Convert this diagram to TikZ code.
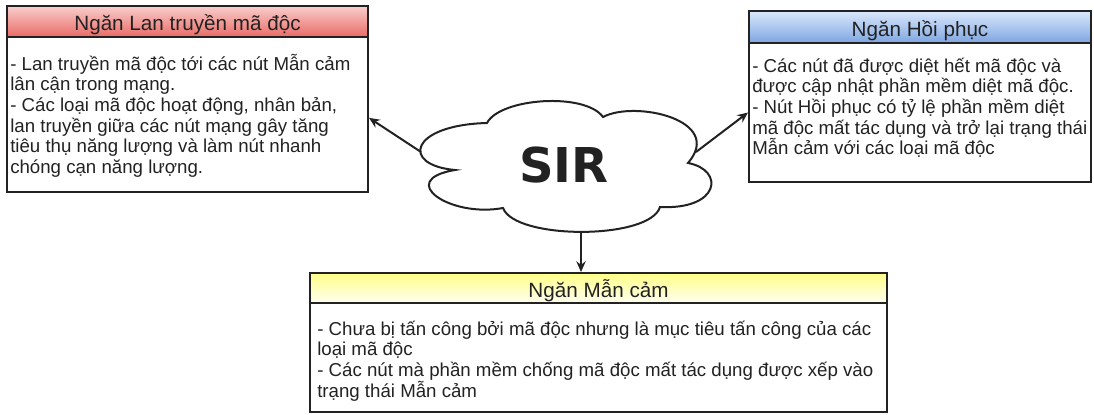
\documentclass[tikz,border=0pt]{standalone}
\usepackage{fontspec}
\setmainfont{Liberation Sans}
\newfontfamily\sirfont{DejaVu Sans}
\usetikzlibrary{arrows.meta,fit}
\definecolor{redtop}{HTML}{F8CECC}
\definecolor{redbot}{HTML}{EA6B66}
\definecolor{bluetop}{HTML}{DAE8FC}
\definecolor{bluebot}{HTML}{7EA6E0}
\definecolor{yeltop}{HTML}{FFFF88}
\definecolor{yelbot}{HTML}{FFFFF0}
\definecolor{ink}{HTML}{222222}
\begin{document}
\begin{tikzpicture}[x=0.75pt,y=-0.75pt,
  boxline/.style={draw=ink, line width=1.5pt},
  hdr/.style={boxline, inner sep=0pt},
  bodybox/.style={boxline, inner sep=0pt, fill=white},
  hdrtext/.style={anchor=base, inner sep=0pt, font=\fontsize{15.5}{18}\selectfont, text=ink},
  bodytext/.style={anchor=north west, inner sep=0pt, align=left, font=\fontsize{14}{15.5}\selectfont, text=ink},
  arr/.style={draw=ink, line width=1.5pt, -{Stealth[length=8pt,width=7pt]}},
  cloudline/.style={draw=ink, line width=1.5pt, fill=white}]
\useasboundingbox (0,0) rectangle (1094,414);

% ---- left box (Lan truyen)
\node[hdr, fit={(7,6) (368,37)}, top color=redtop, bottom color=redbot] (lh) {};
\node[bodybox, fit={(7,37) (368,192)}] (lb) {};
\node[hdrtext] (lht) at (187.5,31) {Ngăn Lan truyền mã độc};
\node[bodytext] (lbt) at (10,50) {\rule{0pt}{15pt}- Lan truyền mã độc tới các nút Mẫn cảm\\
lân cận trong mạng.\\
- Các loại mã độc hoạt động, nhân bản,\\
lan truyền giữa các nút mạng gây tăng\\
tiêu thụ năng lượng và làm nút nhanh\\
chóng cạn năng lượng.};

% ---- right box (Hoi phuc)
\node[hdr, fit={(749,11) (1091,43)}, top color=bluetop, bottom color=bluebot] (rh) {};
\node[bodybox, fit={(749,43) (1091,182)}] (rb) {};
\node[hdrtext] (rht) at (920,36) {Ngăn Hồi phục};
\node[bodytext] (rbt) at (752,52) {\rule{0pt}{15pt}- Các nút đã được diệt hết mã độc và\\
được cập nhật phần mềm diệt mã độc.\\
- Nút Hồi phục có tỷ lệ phần mềm diệt\\
mã độc mất tác dụng và trở lại trạng thái\\
Mẫn cảm với các loại mã độc};

% ---- bottom box (Man cam)
\node[hdr, fit={(310,273) (887,303)}, top color=yeltop, bottom color=yelbot] (bh) {};
\node[bodybox, fit={(310,303) (887,412)}] (bb) {};
\node[hdrtext] (bht) at (598.5,297) {Ngăn Mẫn cảm};
\node[bodytext] (bbt) at (317,315) {\rule{0pt}{15pt}- Chưa bị tấn công bởi mã độc nhưng là mục tiêu tấn công của các\\
loại mã độc\\
- Các nút mà phần mềm chống mã độc mất tác dụng được xếp vào\\
trạng thái Mẫn cảm};

% ---- cloud
\draw[cloudline] (455,170) .. controls (400,165) and (410,125) .. (487,123)
  .. controls (500,98) and (585,92) .. (603,117)
  .. controls (635,100) and (725,120) .. (688,163)
  .. controls (725,170) and (720,210) .. (660,207)
  .. controls (650,240) and (515,240) .. (503,208)
  .. controls (450,218) and (395,180) .. cycle;
\node[anchor=base, inner sep=0pt, font=\sirfont\bfseries\fontsize{36}{40}\selectfont, text=ink] (sir) at (564,182) {SIR};
\coordinate (cL) at (421,152);
\coordinate (cR) at (696,152);
\coordinate (cB) at (581,232);

% ---- connectors
\draw[arr] (cL) -- ([yshift=-2.5pt]lb.east);
\draw[arr] (cR) -- (rb.west);
\draw[arr] (cB) -- (cB |- bh.north);
\end{tikzpicture}
\end{document}
